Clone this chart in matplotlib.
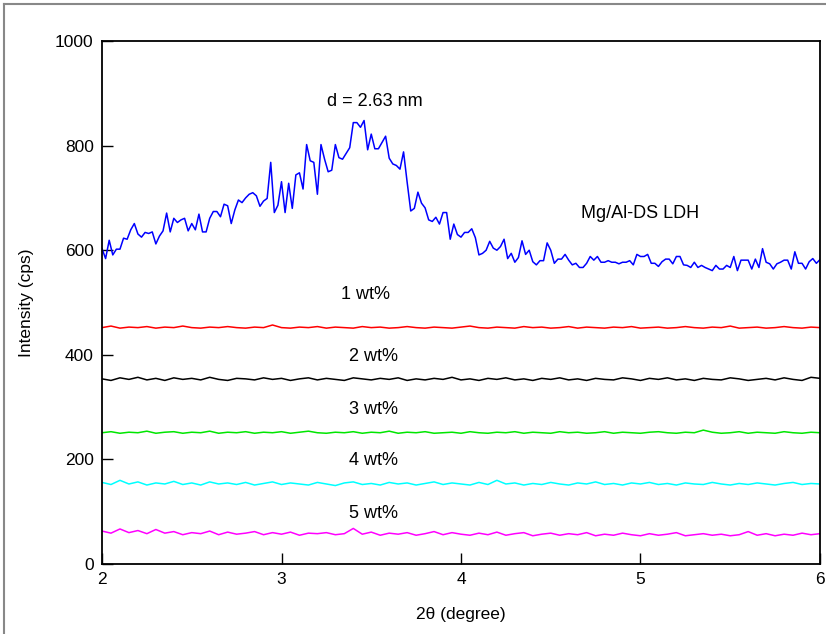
import numpy as np
import matplotlib
matplotlib.use("Agg")
import matplotlib.pyplot as plt
from matplotlib.lines import Line2D

plt.rcParams['font.family'] = ['Liberation Sans', 'DejaVu Sans']

# Mg/Al-DS LDH (blue) intensity (2θ from 2 to 6 deg)
ldh = [603, 584, 619, 591, 602, 602, 623, 621, 639, 651, 631, 625, 634, 632, 635, 612,
       627, 637, 671, 635, 661, 653, 658, 661, 637, 651, 639, 669,
       635, 635, 661, 674, 674, 664, 688, 685, 651, 677, 696, 691, 700, 707, 710, 704,
       684, 694, 699, 768, 672, 686, 731, 672, 728, 680, 744,
       748, 717, 802, 771, 768, 707, 802, 774, 750, 753, 802, 777, 774, 785, 796, 844,
       844, 835, 848, 792, 822, 794, 794, 806, 818, 776,
       765, 762, 755, 788, 730, 675, 680, 711, 690, 681, 658, 655, 663, 650, 672, 672,
       621, 650, 630, 625, 634, 634, 641, 624, 591, 594,
       600, 617, 604, 600, 607, 621, 584, 594, 577, 586, 618, 592, 600, 578, 572, 580,
       580, 614, 600, 575, 583, 583, 592, 581, 572, 575, 567,
       567, 575, 588, 581, 588, 577, 577, 580, 577, 577, 574, 577, 577, 580, 572, 592, 588,
       588, 592, 575, 575, 569, 578, 583, 583, 574, 588, 588, 572, 571, 567, 577, 567,
       571, 567, 564, 561, 571, 564, 564, 571, 567, 588, 561, 581, 581, 581, 564, 583,
       567, 603, 577, 574, 564, 574, 577, 581, 581, 564, 597, 575, 575, 564, 578, 584,
       575, 582]

# Composite samples (flat traces)
wt1 = [452, 455, 451, 453, 452, 454, 451, 453, 452, 455, 452, 451, 453, 452, 454, 452,
       451, 453, 452, 457, 452, 451, 453, 452, 454, 451, 453, 452, 451, 454, 452, 453,
       451, 452, 454, 452, 451, 453, 452, 451, 453, 455, 452, 451, 453, 452, 451, 454,
       452, 453, 451, 452, 454, 451, 453, 452, 451, 453, 452, 454, 451, 452, 453, 451,
       452, 454, 452, 451, 453, 452, 455, 451, 452, 453, 451, 452, 454, 452, 451, 453,
       452]
wt2 = [354, 351, 356, 353, 357, 352, 355, 351, 356, 353, 355, 352, 357, 353, 351, 355,
       354, 352, 356, 353, 355, 351, 354, 356, 352, 355, 353, 351, 356, 354, 352, 355,
       353, 356, 351, 354, 352, 355, 353, 357, 352, 354, 351, 355, 353, 356, 352, 354,
       351, 355, 353, 356, 352, 354, 351, 355, 353, 352, 356, 354, 351, 355, 353, 356,
       352, 354, 351, 355, 353, 352, 356, 354, 351, 353, 355, 352, 356, 353, 351, 357,
       355]
wt3 = [251, 253, 250, 252, 251, 254, 250, 252, 253, 250, 252, 251, 254, 250, 252, 251,
       253, 250, 252, 251, 253, 250, 252, 254, 251, 250, 252, 251, 253, 250, 252, 251,
       254, 250, 252, 251, 253, 250, 251, 252, 250, 253, 251, 250, 252, 251, 253, 250,
       252, 251, 250, 253, 251, 252, 250, 251, 253, 250, 252, 251, 250, 252, 253, 251,
       250, 252, 251, 256, 252, 250, 251, 253, 250, 252, 251, 250, 253, 251, 250, 252,
       251]
wt4 = [156, 152, 160, 153, 157, 151, 155, 153, 158, 152, 155, 151, 157, 153, 155, 152,
       156, 151, 154, 157, 152, 155, 153, 151, 156, 153, 150, 155, 157, 152, 154, 151,
       156, 153, 155, 151, 154, 157, 152, 155, 153, 151, 156, 152, 160, 153, 155, 151,
       154, 152, 156, 153, 151, 155, 153, 157, 152, 154, 151, 155, 153, 156, 152, 154,
       151, 155, 153, 152, 156, 153, 151, 154, 152, 155, 153, 151, 154, 156, 152, 154,
       153]
wt5 = [63, 59, 67, 60, 64, 58, 66, 59, 62, 56, 60, 58, 63, 56, 61, 57, 59, 62, 56, 60,
       57, 61, 55, 59, 58, 60, 56, 58, 68, 57, 61, 55, 59, 57, 60, 55, 58, 62, 56, 60,
       57, 55, 59, 56, 61, 55, 58, 60, 54, 57, 59, 55, 58, 56, 60, 54, 57, 55, 59, 56,
       54, 58, 55, 57, 60, 54, 56, 58, 55, 57, 54, 56, 62, 55, 58, 54, 57, 55, 59, 56,
       58]

labels = ["1 wt%", "2 wt%", "3 wt%", "4 wt%", "5 wt%"]
colors = ["#ff0000", "#000000", "#00e600", "#00ffff", "#ff00ff"]
label_pos = [(3.47, 515), (3.51, 397), (3.51, 295), (3.51, 198), (3.51, 97)]

fig = plt.figure(figsize=(8.26, 6.34), dpi=100)
ax = fig.add_axes([0.1235, 0.1104, 0.8692, 0.8249])

x_ldh = np.linspace(2, 6, len(ldh))
ax.plot(x_ldh, ldh, color="#0000ff", lw=1.1)
for vals, c in zip([wt1, wt2, wt3, wt4, wt5], colors):
    ax.plot(np.linspace(2, 6, len(vals)), vals, color=c, lw=1.1)

ax.set_xlim(2, 6)
ax.set_ylim(0, 1000)
ax.set_xticks([2, 3, 4, 5, 6])
ax.set_yticks([0, 200, 400, 600, 800, 1000])
ax.tick_params(direction="in", length=8, width=1, labelsize=12.5, pad=6,
               top=False, right=False)
for s in ax.spines.values():
    s.set_linewidth(1.3)

ax.set_xlabel("2θ (degree)", fontsize=12.5, labelpad=14)
ax.set_ylabel("Intensity (cps)", fontsize=12.5, labelpad=15)

ax.text(3.52, 885, "d = 2.63 nm", fontsize=13, ha="center", va="center")
ax.text(5.0, 670, "Mg/Al-DS LDH", fontsize=13, ha="center", va="center")
for lab, (lx, ly) in zip(labels, label_pos):
    ax.text(lx, ly, lab, fontsize=13, ha="center", va="center")

# figure frame (grey border at top and left)
fig.add_artist(Line2D([0.005, 1.0], [0.993, 0.993], color="#888888", lw=1.5,
                      transform=fig.transFigure))
fig.add_artist(Line2D([0.005, 0.005], [0.0, 0.993], color="#888888", lw=1.5,
                      transform=fig.transFigure))

fig.savefig("out.png", dpi=100)
